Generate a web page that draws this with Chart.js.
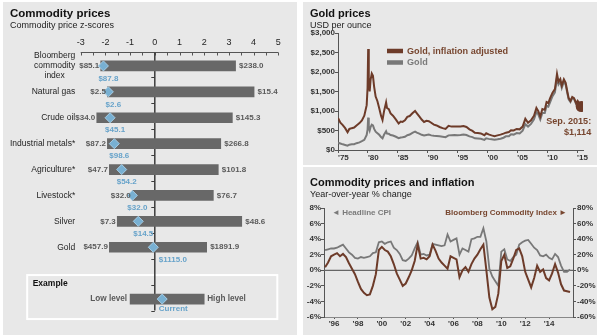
<!DOCTYPE html>
<html>
<head>
<meta charset="utf-8">
<title>Commodity prices</title>
<script src="https://cdn.jsdelivr.net/npm/chart.js@4.4.1/dist/chart.umd.min.js"></script>
<style>
  html, body { margin: 0; padding: 0; background: #fff; }
  body { width: 600px; height: 335px; position: relative; overflow: hidden; }
  .panel { position: absolute; background: #e8e8e8; }
  canvas { position: absolute; left: 0; top: 0; }
</style>
</head>
<body>
<div class="panel" style="left:3px;top:2px;width:294px;height:333px;"></div>
<div class="panel" style="left:303px;top:2px;width:294px;height:163px;"></div>
<div class="panel" style="left:303px;top:167px;width:294px;height:168px;"></div>
<canvas id="zChart" width="600" height="335"></canvas>
<canvas id="goldChart" width="600" height="335"></canvas>
<canvas id="cpiChart" width="600" height="335"></canvas>

<script>
const FONT = '"Liberation Sans", Arial, Helvetica, sans-serif';
const BROWN = '#6d3b29';
const BROWN_TXT = '#77462f';
const GRAY_LINE = '#787878';
const GRAY_TXT = '#7a7a7a';
const BAR = '#686868';
const DIAMOND = '#78b0d2';
const CURRENT_TXT = '#67a3ca';
const VALUE_TXT = '#5a5a5a';
const AXIS = '#555';
const INK = '#1e1e1e';

// --- Commodity price z-scores ---
const commodityNames = [
  ['Bloomberg', 'commodity', 'index'],
  ['Natural gas'], ['Crude oil'], ['Industrial metals*'], ['Agriculture*'],
  ['Livestock*'], ['Silver'], ['Gold']
];
const lowZ     = [-2.19, -1.92, -2.35, -1.92, -1.84, -0.91, -1.52, -1.84];
const highZ    = [ 3.27,  4.02,  3.14,  2.67,  2.57,  2.37,  3.52,  2.10];
const currentZ = [-2.08, -1.88, -1.81, -1.64, -1.34, -0.91, -0.67, -0.06];
const lowPrice     = ['$85.1', '$2.5', '$34.0', '$87.2', '$47.7', '$32.0', '$7.3', '$457.9'];
const highPrice    = ['$238.0', '$15.4', '$145.3', '$266.8', '$101.8', '$76.7', '$48.6', '$1891.9'];
const currentPrice = ['$87.8', '$2.6', '$45.1', '$98.6', '$54.2', '$32.0', '$14.5', '$1115.0'];
const exampleRange = [-1.0, 2.0];
const exampleCurrent = 0.3;

// --- Gold prices, USD per ounce ---
const goldYears = [
  1975.0, 1975.4, 1975.8, 1976.2, 1976.6, 1976.9, 1977.3, 1977.7, 1978.1, 1978.6,
  1979.0, 1979.4, 1979.8, 1979.95, 1980.05, 1980.15, 1980.3, 1980.45, 1980.65, 1980.85,
  1981.05, 1981.3, 1981.6, 1981.9, 1982.2, 1982.45, 1982.7, 1983.05, 1983.2, 1983.5,
  1983.8, 1984.2, 1984.7, 1985.15, 1985.5, 1985.8, 1986.2, 1986.6, 1987.0, 1987.45,
  1987.9, 1988.2, 1988.6, 1989.0, 1989.4, 1989.8, 1990.2, 1990.6, 1991.05, 1991.5,
  1992.0, 1992.5, 1993.0, 1993.5, 1994.0, 1994.5, 1995.0, 1995.5, 1996.0, 1996.5,
  1997.0, 1997.5, 1997.9, 1998.4, 1998.9, 1999.5, 1999.8, 2000.2, 2000.7, 2001.2,
  2001.7, 2002.2, 2002.7, 2003.1, 2003.6, 2003.95, 2004.4, 2004.9, 2005.4, 2005.9,
  2006.35, 2006.8, 2007.3, 2007.8, 2008.2, 2008.5, 2008.85, 2009.2, 2009.6, 2009.9,
  2010.2, 2010.5, 2010.9, 2011.3, 2011.65, 2011.9, 2012.2, 2012.45, 2012.8, 2013.1,
  2013.4, 2013.6, 2013.9, 2014.2, 2014.5, 2014.85, 2015.1, 2015.4, 2015.7
];
const goldReal = [
  820, 700, 640, 560, 455, 540, 560, 575, 630, 690,
  760, 880, 1150, 1600, 2590, 1750, 1500, 1800, 1960, 1900,
  1620, 1370, 1250, 1070, 880, 770, 990, 1220, 1080, 1050,
  940, 880, 780, 680, 730, 720, 760, 850, 870, 940,
  1000, 940, 860, 780, 720, 750, 740, 700, 650, 630,
  590, 560, 540, 620, 600, 605, 600, 600, 615, 590,
  530, 490, 440, 435, 425, 380, 430, 400, 375, 355,
  375, 395, 420, 445, 460, 505, 500, 540, 530, 600,
  800, 700, 760, 880, 1080, 1000, 860, 1050, 1030, 1230,
  1200, 1330, 1470, 1560, 1950, 1750, 1820, 1650, 1810, 1720,
  1480, 1330, 1260, 1360, 1330, 1200, 1260, 1190, 1114
];
const goldNominal = [
  185, 165, 145, 130, 110, 135, 148, 150, 175, 195,
  225, 260, 385, 520, 830, 580, 500, 590, 650, 630,
  540, 470, 430, 390, 330, 300, 390, 480, 420, 415,
  385, 370, 340, 305, 320, 325, 340, 380, 395, 440,
  470, 445, 420, 390, 370, 385, 395, 375, 365, 360,
  350, 340, 330, 375, 380, 385, 380, 385, 395, 385,
  350, 330, 300, 295, 290, 260, 300, 285, 275, 265,
  275, 290, 315, 350, 355, 405, 395, 435, 425, 495,
  660, 600, 670, 790, 970, 920, 780, 950, 950, 1130,
  1110, 1230, 1380, 1480, 1850, 1680, 1750, 1590, 1750, 1670,
  1440, 1300, 1230, 1330, 1310, 1180, 1240, 1180, 1114
];
const goldTickYears = [1975, 1980, 1985, 1990, 1995, 2000, 2005, 2010, 2015];

// --- Commodity prices and inflation, y/y % change (quarterly) ---
const cpiDates = [
  1995.25, 1995.5, 1995.75,
  1996, 1996.25, 1996.5, 1996.75,
  1997, 1997.25, 1997.5, 1997.75,
  1998, 1998.25, 1998.5, 1998.75,
  1999, 1999.25, 1999.5, 1999.75,
  2000, 2000.25, 2000.5, 2000.75,
  2001, 2001.25, 2001.5, 2001.75,
  2002, 2002.25, 2002.5, 2002.75,
  2003, 2003.25, 2003.5, 2003.75,
  2004, 2004.25, 2004.5, 2004.75,
  2005, 2005.25, 2005.5, 2005.75,
  2006, 2006.25, 2006.5, 2006.75,
  2007, 2007.25, 2007.5, 2007.75,
  2008, 2008.25, 2008.5, 2008.75,
  2009, 2009.25, 2009.5, 2009.75,
  2010, 2010.25, 2010.5, 2010.75,
  2011, 2011.25, 2011.5, 2011.75,
  2012, 2012.25, 2012.5, 2012.75,
  2013, 2013.25, 2013.5, 2013.75,
  2014, 2014.25, 2014.5, 2014.75,
  2015, 2015.25, 2015.5, 2015.75
];
const headlineCpi = [
  2.6, 2.7, 2.8,
  2.8, 2.9, 3.1, 3.3,
  2.8, 2.3, 2.0, 1.6,
  1.5, 1.7, 1.6, 1.7,
  1.8, 2.2, 2.3, 3.6,
  3.7, 3.4, 3.6, 3.7,
  2.9, 2.6, 2.1, 1.3,
  1.2, 1.5, 1.9, 2.8,
  3.6, 2.0, 2.1, 1.9,
  2.0, 3.4, 3.3, 3.2,
  3.1, 3.2, 4.6, 3.7,
  3.9, 4.1, 2.0, 2.8,
  2.6, 2.4, 4.0, 4.1,
  4.3, 4.3, 5.4, 3.7,
  0.2, -0.8, -1.4, -2.0,
  2.4, 2.7, 1.4, 1.2,
  1.7, 2.0, 3.3, 3.6,
  3.8, 3.9, 3.4, 2.9,
  2.6, 1.9, 1.8, 2.0,
  1.6, 1.4, 2.1, 1.7,
  0.6, -0.2, -0.2, 0.1
];
const bcomIndex = [
  4, 10, 18,
  20, 22, 18, 21,
  17, 9, 2, -5,
  -15, -24, -29, -32,
  -31, -20, -5, 26,
  30, 26, 24, 18,
  8, -4, -12, -20,
  -17, -9, 0, 12,
  33, 15, 16, 14,
  18, 33, 25, 15,
  10, 6, 2, 18,
  16, 14, -9, 0,
  4, -2, 8, 15,
  20, 27, 33, 0,
  -35, -50, -47, -30,
  12, 20, 3, 5,
  15, 26, 28, 18,
  -2, -12, -22, -10,
  6, -2, 1, -10,
  -13, -4, 8, -3,
  -18, -26, -27, -28
];
const cpiTickYears = [1996, 1998, 2000, 2002, 2004, 2006, 2008, 2010, 2012, 2014];

Chart.defaults.font.family = FONT;

const f = (size, bold) => (bold ? 'bold ' : '') + size + 'px ' + FONT;

function drawText(ctx, s, x, y, font, color, align = 'left', baseline = 'middle') {
  ctx.save();
  ctx.font = font;
  ctx.fillStyle = color;
  ctx.textAlign = align;
  ctx.textBaseline = baseline;
  ctx.fillText(s, x, y);
  ctx.restore();
}

// current-level label sits under the diamond, pushed right of the zero line if it would cross it
function currentLabel(ctx, s, px, y, x0) {
  ctx.font = f(8, true);
  const w = ctx.measureText(s).width;
  const cx = px + 5;
  if (cx - w / 2 < x0 + 1 && cx + w / 2 > x0 - 1) {
    drawText(ctx, s, x0 + 4, y, f(8, true), CURRENT_TXT, 'left');
  } else {
    drawText(ctx, s, cx, y, f(8, true), CURRENT_TXT, 'center');
  }
}

const zRows = [...commodityNames.map(n => n.join(' ')), '', 'Example'];

const zPanelPlugin = {
  id: 'zPanel',
  beforeDatasetsDraw(chart) {
    const { ctx, chartArea: ca, scales: { x, y } } = chart;
    const x0 = x.getPixelForValue(0);
    const band = (ca.bottom - ca.top) / zRows.length;
    const ey = y.getPixelForValue(zRows.length - 1);
    ctx.save();
    // example frame
    ctx.strokeStyle = '#fff';
    ctx.lineWidth = 2;
    ctx.strokeRect(x.getPixelForValue(-3) - 53.5, ey - 24, x.getPixelForValue(5) - x.getPixelForValue(-3) + 52.5, 44);
    // top axis with half-unit ticks
    ctx.strokeStyle = AXIS;
    ctx.lineWidth = 1;
    ctx.beginPath();
    ctx.moveTo(x.getPixelForValue(-3), ca.top - 0.5);
    ctx.lineTo(x.getPixelForValue(5), ca.top - 0.5);
    for (let v = -3; v <= 5; v += 0.5) {
      const px = Math.round(x.getPixelForValue(v)) + 0.5;
      ctx.moveTo(px, ca.top - 0.5);
      ctx.lineTo(px, ca.top + 2.5);
    }
    ctx.stroke();
    // zero line with row ticks
    ctx.strokeStyle = '#3c3c3c';
    ctx.lineWidth = 1.5;
    ctx.beginPath();
    ctx.moveTo(x0, ca.top - 0.5);
    ctx.lineTo(x0, ca.bottom - 1.5);
    ctx.stroke();
    ctx.lineWidth = 1;
    ctx.beginPath();
    for (let k = 1; k <= zRows.length; k++) {
      const py = Math.round(ca.top + k * band - 1.5) + 0.5;
      ctx.moveTo(x0 - 3.5, py);
      ctx.lineTo(x0, py);
    }
    ctx.stroke();
    ctx.restore();
  },
  afterDatasetsDraw(chart) {
    const { ctx, chartArea: ca, scales: { x, y } } = chart;
    const x0 = x.getPixelForValue(0);
    const right = ca.left - 5.5;

    drawText(ctx, 'Commodity prices', 10, 17, f(11.5, true), '#111', 'left', 'alphabetic');
    drawText(ctx, 'Commodity price z-scores', 10, 27.5, f(9), '#222', 'left', 'alphabetic');

    commodityNames.forEach((lines, i) => {
      const yc = y.getPixelForValue(i);
      if (lines.length === 1) {
        drawText(ctx, lines[0], right, yc, f(8.5), INK, 'right');
      } else {
        ctx.font = f(8.5);
        const w = Math.max(...lines.map(l => ctx.measureText(l).width));
        const cx = right - w / 2;
        lines.forEach((l, j) => drawText(ctx, l, cx, yc + (j - (lines.length - 1) / 2) * 10, f(8.5), INK, 'center'));
      }
      drawText(ctx, lowPrice[i], x.getPixelForValue(lowZ[i]) - 1.5, yc, f(8, true), VALUE_TXT, 'right');
      drawText(ctx, highPrice[i], x.getPixelForValue(highZ[i]) + 3.5, yc, f(8, true), VALUE_TXT, 'left');
      currentLabel(ctx, currentPrice[i], x.getPixelForValue(currentZ[i]), yc + 12.5, x0);
    });

    const ey = y.getPixelForValue(zRows.length - 1);
    drawText(ctx, 'Example', x.getPixelForValue(-3) - 48, ey - 15, f(8.5, true), '#111', 'left');
    drawText(ctx, 'Low level', x.getPixelForValue(exampleRange[0]) - 3, ey, f(8.2, true), VALUE_TXT, 'right');
    drawText(ctx, 'High level', x.getPixelForValue(exampleRange[1]) + 3, ey, f(8.2, true), VALUE_TXT, 'left');
    currentLabel(ctx, 'Current', x.getPixelForValue(exampleCurrent), ey + 10, x0);
  }
};

new Chart(document.getElementById('zChart'), {
  type: 'bar',
  data: {
    labels: zRows,
    datasets: [
      {
        type: 'line',
        data: [...currentZ, null, exampleCurrent],
        showLine: false,
        pointStyle: 'rectRot',
        pointRadius: 5,
        pointBackgroundColor: DIAMOND,
        pointBorderColor: '#a6cde5',
        pointBorderWidth: 1,
        order: 0
      },
      {
        data: [...lowZ.map((v, i) => [v, highZ[i]]), null, exampleRange],
        backgroundColor: BAR,
        barThickness: 10,
        order: 1
      }
    ]
  },
  options: {
    indexAxis: 'y',
    responsive: false,
    animation: false,
    events: [],
    layout: { padding: { left: 0, right: 321.7, top: 0, bottom: 23 } },
    plugins: { legend: { display: false }, tooltip: { enabled: false } },
    scales: {
      x: {
        position: 'top',
        min: -3,
        max: 5,
        ticks: { stepSize: 1, padding: 5.5, color: INK, font: { size: 9 } },
        grid: { display: false, drawTicks: false },
        border: { display: false },
        afterFit: s => { s.height = 53; }
      },
      y: {
        ticks: { display: false },
        grid: { display: false, drawTicks: false },
        border: { display: false },
        afterFit: s => { s.width = 80.7; }
      }
    }
  },
  plugins: [zPanelPlugin]
});

// --- Gold chart ---
const goldPlugin = {
  id: 'goldText',
  afterDatasetsDraw(chart) {
    const { ctx, scales: { x, y } } = chart;
    drawText(ctx, 'Gold prices', 310, 16.5, f(11, true), '#111', 'left', 'alphabetic');
    drawText(ctx, 'USD per ounce', 310, 28, f(9), '#222', 'left', 'alphabetic');

    ctx.save();
    ctx.lineWidth = 4.5;
    ctx.strokeStyle = BROWN;
    ctx.beginPath(); ctx.moveTo(387, 51); ctx.lineTo(403, 51); ctx.stroke();
    ctx.strokeStyle = GRAY_LINE;
    ctx.beginPath(); ctx.moveTo(387, 62.5); ctx.lineTo(403, 62.5); ctx.stroke();
    ctx.restore();
    drawText(ctx, 'Gold, inflation adjusted', 407, 51, f(9.1, true), BROWN_TXT, 'left');
    drawText(ctx, 'Gold', 407, 62.5, f(9.1, true), GRAY_TXT, 'left');

    const last = goldReal.length - 1;
    const px = x.getPixelForValue(goldYears[last]);
    const py = y.getPixelForValue(goldReal[last]);
    drawText(ctx, 'Sep. 2015:', px + 10, py + 14.5, f(9.1, true), BROWN_TXT, 'right');
    drawText(ctx, '$' + goldReal[last].toLocaleString('en-US'), px + 10, py + 25.5, f(9.1, true), BROWN_TXT, 'right');
  }
};

const lastGold = goldReal.length - 1;
new Chart(document.getElementById('goldChart'), {
  type: 'line',
  data: {
    datasets: [
      {
        data: [{ x: goldYears[lastGold], y: goldReal[lastGold] }],
        showLine: false,
        pointRadius: 5.5,
        pointBackgroundColor: BROWN,
        pointBorderWidth: 0,
        order: 0
      },
      {
        label: 'Gold, inflation adjusted',
        data: goldYears.map((yr, i) => ({ x: yr, y: goldReal[i] })),
        borderColor: BROWN,
        borderWidth: 2,
        pointRadius: 0,
        order: 1
      },
      {
        label: 'Gold',
        data: goldYears.map((yr, i) => ({ x: yr, y: goldNominal[i] })),
        borderColor: GRAY_LINE,
        borderWidth: 2,
        pointRadius: 0,
        order: 2
      }
    ]
  },
  options: {
    responsive: false,
    animation: false,
    events: [],
    layout: { padding: { left: 303, right: 17, top: 33, bottom: 170 } },
    plugins: { legend: { display: false }, tooltip: { enabled: false } },
    scales: {
      x: {
        type: 'linear',
        min: 1975,
        max: 2016,
        afterBuildTicks: s => { s.ticks = goldTickYears.map(v => ({ value: v })); },
        ticks: {
          align: 'start',
          padding: 0,
          maxRotation: 0,
          autoSkip: false,
          color: '#333',
          font: { size: 8, weight: 'bold' },
          callback: v => "'" + String(v).slice(2)
        },
        grid: { drawOnChartArea: false, tickLength: 3, color: AXIS },
        border: { color: AXIS },
        afterFit: s => { s.height = 15; }
      },
      y: {
        min: 0,
        max: 3000,
        ticks: {
          stepSize: 500,
          padding: 0,
          color: '#333',
          font: { size: 8, weight: 'bold' },
          callback: v => '$' + v.toLocaleString('en-US')
        },
        grid: { drawOnChartArea: false, tickLength: 3, color: AXIS },
        border: { color: AXIS },
        afterFit: s => { s.width = 35; }
      }
    }
  },
  plugins: [goldPlugin]
});

// --- CPI vs commodity index chart ---
const cpiPlugin = {
  id: 'cpiText',
  beforeDatasetsDraw(chart) {
    const { ctx, chartArea: ca, scales: { y } } = chart;
    const py = y.getPixelForValue(0);
    ctx.save();
    ctx.strokeStyle = '#666';
    ctx.lineWidth = 1.2;
    ctx.beginPath();
    ctx.moveTo(ca.left, py);
    ctx.lineTo(ca.right, py);
    ctx.stroke();
    ctx.restore();
  },
  afterDatasetsDraw(chart) {
    const { ctx, chartArea: ca } = chart;
    drawText(ctx, 'Commodity prices and inflation', 310, 185.5, f(11, true), '#111', 'left', 'alphabetic');
    drawText(ctx, 'Year-over-year % change', 310, 197, f(9), '#222', 'left', 'alphabetic');
    drawText(ctx, '\u25C4 Headline CPI', ca.left + 8, ca.top + 5, f(8, true), GRAY_TXT, 'left');
    drawText(ctx, 'Bloomberg Commodity Index \u25BA', ca.right - 6, ca.top + 5, f(8, true), BROWN_TXT, 'right');
  }
};

new Chart(document.getElementById('cpiChart'), {
  type: 'line',
  data: {
    datasets: [
      {
        label: 'Bloomberg Commodity Index',
        data: cpiDates.map((d, i) => ({ x: d, y: bcomIndex[i] })),
        yAxisID: 'y2',
        borderColor: BROWN,
        borderWidth: 2,
        pointRadius: 0,
        order: 1
      },
      {
        label: 'Headline CPI',
        data: cpiDates.map((d, i) => ({ x: d, y: headlineCpi[i] })),
        yAxisID: 'y',
        borderColor: GRAY_LINE,
        borderWidth: 1.8,
        pointRadius: 0,
        order: 2
      }
    ]
  },
  options: {
    responsive: false,
    animation: false,
    events: [],
    layout: { padding: { left: 303, right: 3, top: 208, bottom: 0 } },
    plugins: { legend: { display: false }, tooltip: { enabled: false } },
    scales: {
      x: {
        type: 'linear',
        min: 1995.16,
        max: 2016.0,
        afterBuildTicks: s => { s.ticks = cpiTickYears.map(v => ({ value: v })); },
        ticks: {
          padding: 0,
          maxRotation: 0,
          autoSkip: false,
          color: '#333',
          font: { size: 8, weight: 'bold' },
          callback: v => "'" + String(v).slice(2)
        },
        grid: { drawOnChartArea: false, tickLength: 2, color: AXIS },
        border: { color: '#888' },
        afterFit: s => { s.height = 18; }
      },
      y: {
        position: 'left',
        min: -6,
        max: 8,
        ticks: {
          stepSize: 2,
          padding: 0,
          color: '#333',
          font: { size: 8, weight: 'bold' },
          callback: v => v + '%'
        },
        grid: { drawOnChartArea: false, tickLength: 3, color: AXIS },
        border: { color: AXIS },
        afterFit: s => { s.width = 21; }
      },
      y2: {
        position: 'right',
        min: -60,
        max: 80,
        ticks: {
          stepSize: 20,
          padding: 1,
          color: '#333',
          font: { size: 8, weight: 'bold' },
          callback: v => v + '%'
        },
        grid: { drawOnChartArea: false, tickLength: 3, color: AXIS },
        border: { color: AXIS },
        afterFit: s => { s.width = 24; }
      }
    }
  },
  plugins: [cpiPlugin]
});
</script>
</body>
</html>
